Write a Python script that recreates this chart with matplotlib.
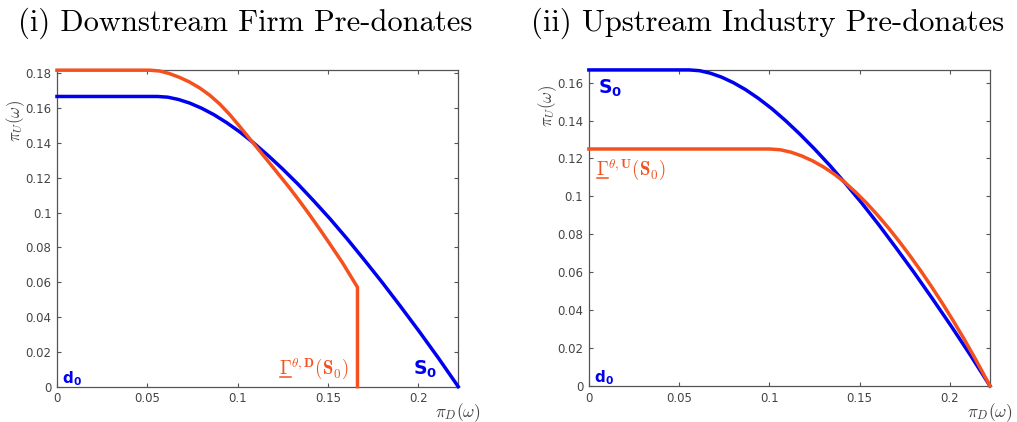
import matplotlib
matplotlib.use("Agg")
import matplotlib.pyplot as plt
from matplotlib.lines import Line2D

# S0 frontier (same in both panels)
s0_x = [0, 0.0556, 0.0613, 0.0672, 0.0735, 0.0800, 0.0868, 0.0939, 0.1013, 0.1089, 0.1168,
        0.1250, 0.1335, 0.1422, 0.1513, 0.1606, 0.1701, 0.1800, 0.1901, 0.2006, 0.2113, 0.2222]
s0_y = [0.1667, 0.1667, 0.1663, 0.1650, 0.1629, 0.1600, 0.1563, 0.1517, 0.1463, 0.1400, 0.1329,
        0.1250, 0.1163, 0.1067, 0.0963, 0.0850, 0.0729, 0.0600, 0.0463, 0.0317, 0.0163, 0]

# downstream firm pre-donates
gd_x = [0, 0.0514, 0.0570, 0.0624, 0.0680, 0.0734, 0.0790, 0.0845, 0.0900, 0.0955, 0.1010, 0.1066,
        0.1121, 0.1176, 0.1231, 0.1287, 0.1342, 0.1397, 0.1452, 0.1507, 0.1581, 0.1664, 0.1664]
gd_y = [0.1818, 0.1818, 0.1813, 0.1798, 0.1776, 0.1750, 0.1716, 0.1675, 0.1625, 0.1565, 0.1497, 0.1426,
        0.1356, 0.1286, 0.1215, 0.1143, 0.1068, 0.0990, 0.0909, 0.0826, 0.0712, 0.0571, 0]

# upstream industry pre-donates
gu_x = [0, 0.100, 0.106, 0.112, 0.118, 0.124, 0.130, 0.136, 0.142, 0.148, 0.154, 0.160, 0.166,
        0.172, 0.178, 0.184, 0.190, 0.196, 0.202, 0.208, 0.214, 0.2222]
gu_y = [0.125, 0.125, 0.1246, 0.1233, 0.1213, 0.1187, 0.1155, 0.1117, 0.1072, 0.1020, 0.0963, 0.0900,
        0.0833, 0.0761, 0.0685, 0.0605, 0.0521, 0.0433, 0.0341, 0.0245, 0.0144, 0]

xticks = [0, 0.05, 0.1, 0.15, 0.2]
xlabels = ["0", "0.05", "0.1", "0.15", "0.2"]
yticks_l = [0, 0.02, 0.04, 0.06, 0.08, 0.1, 0.12, 0.14, 0.16, 0.18]
yticks_r = [0, 0.02, 0.04, 0.06, 0.08, 0.1, 0.12, 0.14, 0.16]

BLUE = "#0000f0"
ORANGE = "#f4511e"
AXC = "#555555"

fig = plt.figure(figsize=(10.17, 4.22), dpi=100)
ax1 = fig.add_axes([0.056, 0.0837, 0.3946, 0.750])
ax2 = fig.add_axes([0.579, 0.0853, 0.3945, 0.749])


def style(ax, yticks, ytop):
    ax.set_xlim(0, 0.2222)
    ax.set_ylim(0, ytop)
    ax.set_xticks(xticks)
    ax.set_xticklabels(xlabels)
    ax.set_yticks(yticks)
    ax.set_yticklabels(["0" if v == 0 else ("%g" % v) for v in yticks])
    ax.tick_params(direction="in", top=True, right=True, length=3, width=0.8,
                   colors=AXC, labelsize=8.5, labelcolor="#444444", pad=4)
    for s in ax.spines.values():
        s.set_color(AXC)
        s.set_linewidth(0.9)
    ax.set_xlabel(r"$\pi_D(\omega)$", fontsize=12.5, color="#444444", math_fontfamily="cm",
                  va="center")
    ax.xaxis.set_label_coords(1.0, -0.083)
    ax.set_ylabel(r"$\pi_U(\omega)$", fontsize=12, color="#444444", math_fontfamily="cm",
                  va="center")


def gamma_label(ax, x, y, sup):
    # underlined bold Gamma, drawn as text plus a short rule
    ax.text(x, y, r"$\mathbf{\Gamma}^{\theta,\mathbf{%s}}(\mathbf{S_0})$" % sup,
            color=ORANGE, fontsize=13.5, math_fontfamily="cm")
    g = ax.text(x, y, r"$\mathbf{\Gamma}$", color=ORANGE, alpha=0,
                fontsize=13.5, math_fontfamily="cm")
    return g


style(ax1, yticks_l, 0.1818)
ax1.yaxis.set_label_coords(-0.103, 0.84)
ax1.plot(s0_x, s0_y, color=BLUE, lw=2.5, solid_joinstyle="round", clip_on=False, zorder=3)
ax1.plot(gd_x, gd_y, color=ORANGE, lw=2.5, solid_joinstyle="round", clip_on=False, zorder=4)
ax1.text(0.003, 0.002, r"$\mathbf{d_0}$", color=BLUE, fontsize=11, math_fontfamily="dejavusans")
ax1.text(0.197, 0.007, r"$\mathbf{S_0}$", color=BLUE, fontsize=13.5, math_fontfamily="dejavusans")
g1 = gamma_label(ax1, 0.1228, 0.007, "D")

style(ax2, yticks_r, 0.1667)
ax2.yaxis.set_label_coords(-0.102, 0.885)
ax2.plot(s0_x, s0_y, color=BLUE, lw=2.5, solid_joinstyle="round", clip_on=False, zorder=3)
ax2.plot(gu_x, gu_y, color=ORANGE, lw=2.5, solid_joinstyle="round", clip_on=False, zorder=4)
ax2.text(0.003, 0.002, r"$\mathbf{d_0}$", color=BLUE, fontsize=11, math_fontfamily="dejavusans")
ax2.text(0.005, 0.154, r"$\mathbf{S_0}$", color=BLUE, fontsize=13.5, math_fontfamily="dejavusans")
g2 = gamma_label(ax2, 0.004, 0.111, "U")

fig.text(0.241, 0.946, "(i) Downstream Firm Pre-donates", fontsize=22, family="cmr10",
         ha="center", va="center")
fig.text(0.755, 0.946, "(ii) Upstream Industry Pre-donates", fontsize=22, family="cmr10",
         ha="center", va="center")

fig.canvas.draw()
r = fig.canvas.get_renderer()
for g in (g1, g2):
    bb = g.get_window_extent(r)
    y0 = bb.y0 + 1.5
    fig.add_artist(Line2D([bb.x0 + 1, bb.x1 - 1], [y0, y0], transform=None,
                          color=ORANGE, lw=1.1))

fig.savefig("out.png", dpi=100)
